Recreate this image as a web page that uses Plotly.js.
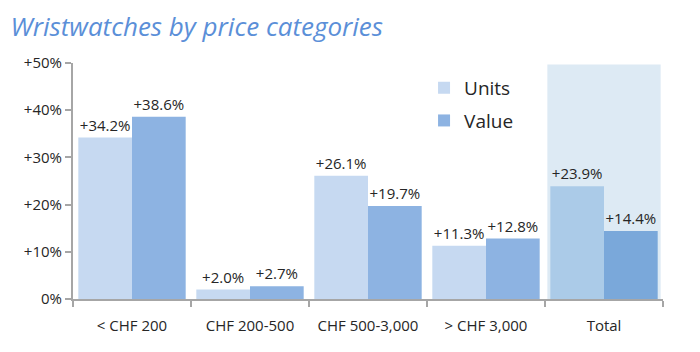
<!DOCTYPE html>
<html><head><meta charset="utf-8">
<script src="https://cdn.plot.ly/plotly-3.0.1.min.js"></script>
<style>html,body{margin:0;padding:0;background:#fff}#c{width:700px;height:352px}</style>
</head><body><div id="c"></div>
<script>
const categories = ["< CHF 200", "CHF 200-500", "CHF 500-3,000", "> CHF 3,000", "Total"];
const units = [34.2, 2.0, 26.1, 11.3, 23.9];
const value = [38.6, 2.7, 19.7, 12.8, 14.4];
const tickVals = [0, 10, 20, 30, 40, 50];
const tickText = ["0%", "+10%", "+20%", "+30%", "+40%", "+50%"];

const unitsColors = ["#c6d9f1", "#c6d9f1", "#c6d9f1", "#c6d9f1", "#abcbe8"];
const valueColors = ["#8db3e2", "#8db3e2", "#8db3e2", "#8db3e2", "#7aa8da"];
const fmt = v => "+" + v.toFixed(1) + "%";
const labelFont = {family: "Open Sans, sans-serif", size: 15, color: "#262626"};

const data = [
  {type: "bar", name: "Units", legendgroup: "u", x: categories, y: units, marker: {color: unitsColors},
   text: units.map(fmt), textposition: "outside", textfont: labelFont, cliponaxis: false},
  {type: "bar", name: "Value", legendgroup: "v", x: categories, y: value, marker: {color: valueColors},
   text: value.map(fmt), textposition: "outside", textfont: labelFont, cliponaxis: false}
];

const layout = {
  width: 700, height: 352,
  margin: {l: 73, r: 37, t: 63, b: 53},
  paper_bgcolor: "#fff", plot_bgcolor: "rgba(0,0,0,0)",
  title: {text: "<i>Wristwatches by price categories</i>", x: 0.015, xanchor: "left", y: 0.925, yanchor: "middle",
          font: {family: "Open Sans, sans-serif", size: 26, color: "#5b8fd8"}},
  barmode: "group", bargap: 0.09, bargroupgap: 0,
  showlegend: true,
  legend: {x: 0.595, y: 0.975, xanchor: "left", yanchor: "top", font: {family: "Open Sans, sans-serif", size: 19, color: "#262626"},
           bgcolor: "rgba(0,0,0,0)", itemwidth: 30, tracegroupgap: 5},
  xaxis: {type: "category", showline: true, linecolor: "#a6a6a6", linewidth: 2, ticks: "outside", tickson: "boundaries",
          ticklen: 6, tickcolor: "#a6a6a6", tickwidth: 2, showgrid: false, ticklabelstandoff: 12,
          tickfont: {family: "Open Sans, sans-serif", size: 15, color: "#262626"}},
  yaxis: {range: [0, 50], tickvals: tickVals, ticktext: tickText, showline: true, linecolor: "#a6a6a6", linewidth: 2,
          ticks: "outside", ticklen: 6, tickcolor: "#a6a6a6", tickwidth: 2, showgrid: false, zeroline: false,
          tickfont: {family: "Open Sans, sans-serif", size: 15, color: "#262626"}},
  shapes: [{type: "rect", layer: "below", xref: "x", yref: "y", x0: 3.52, x1: 4.48, y0: -1.2, y1: 49.7,
            fillcolor: "#ddeaf4", line: {width: 0}}]
};
Plotly.newPlot("c", data, layout, {displayModeBar: false, staticPlot: true});
</script></body></html>
